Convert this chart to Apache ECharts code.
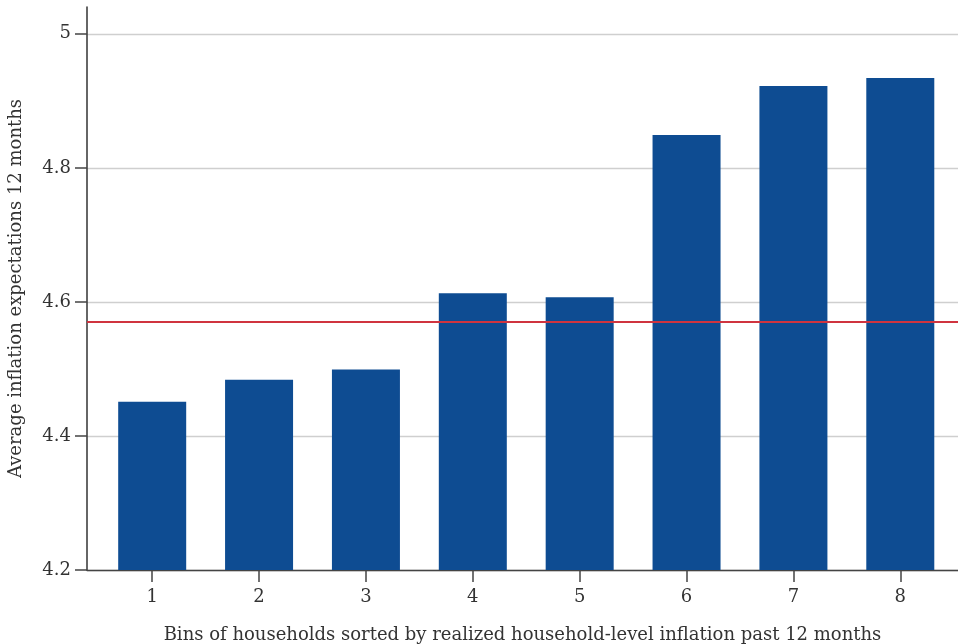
<!DOCTYPE html>
<html>
<head>
<meta charset="utf-8">
<script src="https://cdn.jsdelivr.net/npm/echarts@6/dist/echarts.min.js"></script>
<style>
  html, body { margin: 0; padding: 0; background: #fff; }
  #chart { width: 958px; height: 644px; }
</style>
</head>
<body>
<div id="chart"></div>
<script>
var bins = [1, 2, 3, 4, 5, 6, 7, 8];
var avgExpectations = [4.451, 4.484, 4.499, 4.613, 4.607, 4.849, 4.922, 4.934];
var yTicks = [4.2, 4.4, 4.6, 4.8, 5];
var overallMean = 4.569;

var chart = echarts.init(document.getElementById('chart'));
var font = '"DejaVu Serif", "Liberation Serif", serif';

var option = {
  animation: false,
  textStyle: { fontFamily: font },
  grid: { left: 87, right: 0, top: 7, bottom: 74, containLabel: false, outerBoundsMode: 'none' },
  xAxis: {
    type: 'value',
    min: 0.39,
    max: 8.54,
    name: 'Bins of households sorted by realized household-level inflation past 12 months',
    nameLocation: 'middle',
    nameGap: 56,
    nameTextStyle: { fontFamily: font, fontSize: 18, color: '#333' },
    axisLine: { show: true, lineStyle: { color: '#444', width: 1.3 } },
    axisTick: { show: true, inside: false, customValues: bins, length: 12, lineStyle: { color: '#444', width: 1.5 } },
    axisLabel: { customValues: bins, margin: 18, fontFamily: font, fontSize: 18, color: '#333' },
    splitLine: { show: false }
  },
  yAxis: {
    type: 'value',
    min: 4.2,
    max: 5.04,
    name: 'Average inflation expectations 12 months',
    nameLocation: 'middle',
    nameGap: 62,
    nameTextStyle: { fontFamily: font, fontSize: 18, color: '#333' },
    axisLine: { show: true, lineStyle: { color: '#333', width: 1.5 } },
    axisTick: { show: true, inside: false, customValues: yTicks, length: 12, lineStyle: { color: '#444', width: 1.5 } },
    axisLabel: { customValues: yTicks, margin: 16, fontFamily: font, fontSize: 18, color: '#333' },
    splitLine: { show: true, lineStyle: { color: '#cfcfcf', width: 1.3 } }
  },
  series: [
    {
      type: 'bar',
      data: bins.map(function (b, i) { return [b, avgExpectations[i]]; }),
      barWidth: 68,
      itemStyle: { color: '#0e4c92' },
      markLine: {
        silent: true,
        symbol: 'none',
        label: { show: false },
        lineStyle: { color: '#d0343f', type: 'solid', width: 2 },
        data: [{ yAxis: overallMean }]
      }
    }
  ]
};

chart.setOption(option);
</script>
</body>
</html>
